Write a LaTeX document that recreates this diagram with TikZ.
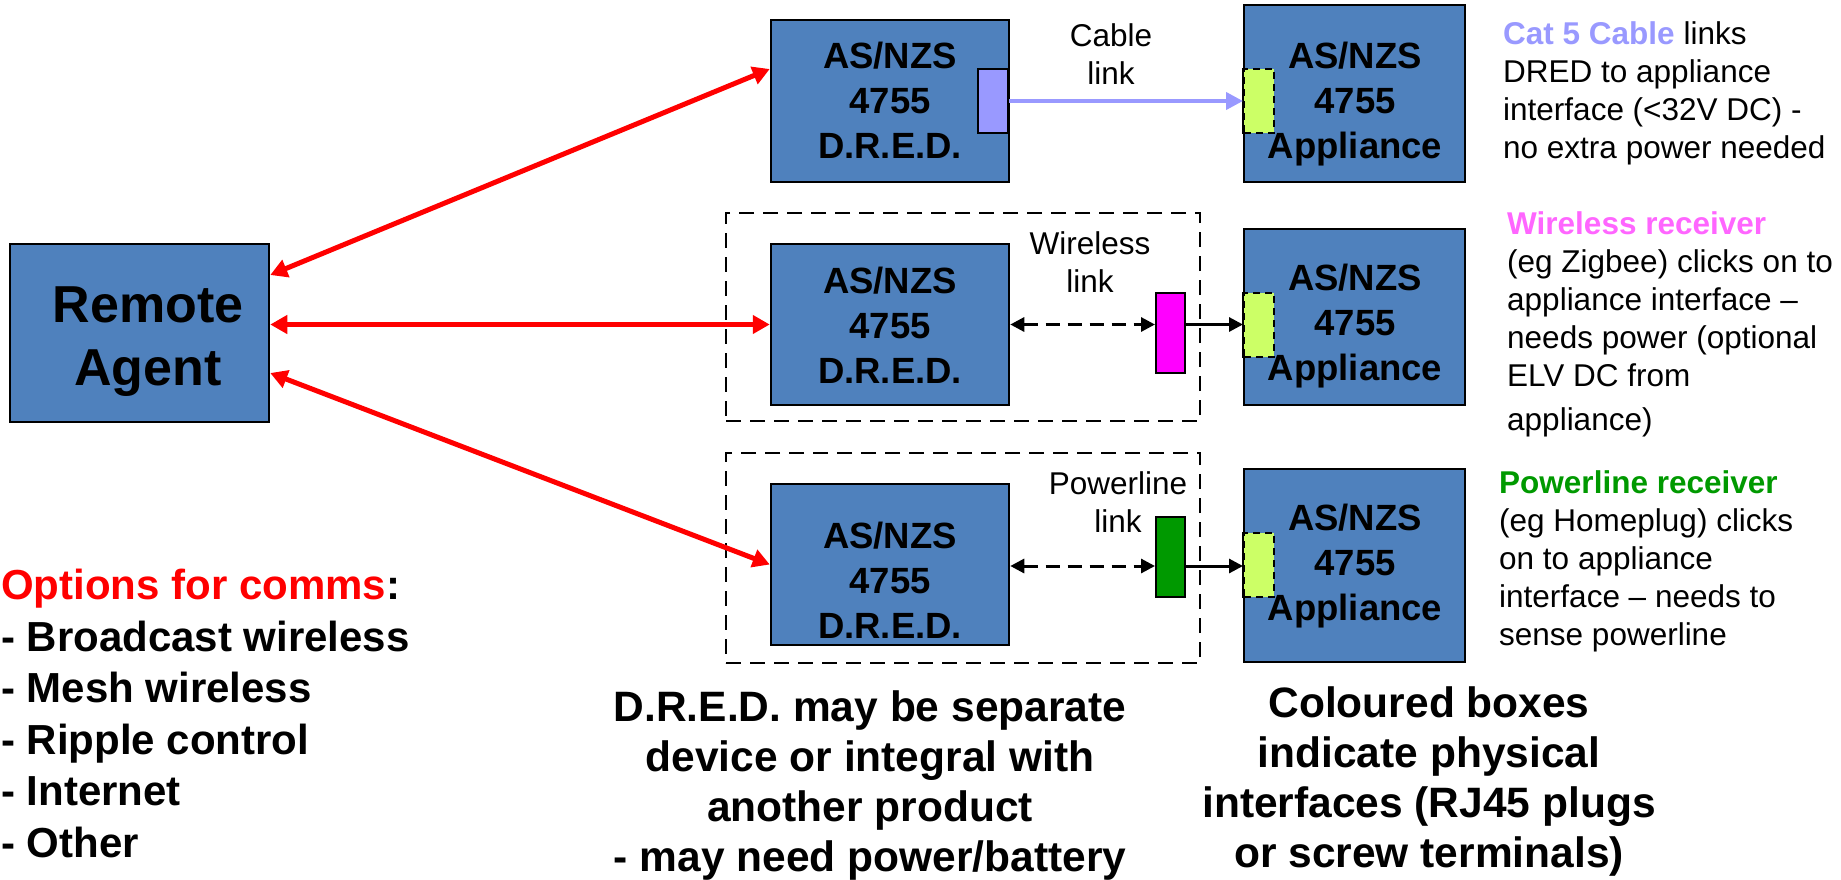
\documentclass[tikz,border=0pt]{standalone}
\usepackage{fontspec}
\setmainfont{Liberation Sans}
\usetikzlibrary{arrows.meta}

\definecolor{boxblue}{RGB}{79,129,189}
\definecolor{cablepurple}{RGB}{153,153,255}
\definecolor{portlime}{RGB}{204,255,102}
\definecolor{radiomagenta}{RGB}{255,0,255}
\definecolor{radiopink}{RGB}{255,102,255}
\definecolor{plcgreen}{RGB}{0,153,0}
\definecolor{commsred}{RGB}{255,0,0}

\newcommand\fsz[2]{\fontsize{#1}{#2}\selectfont}

\begin{document}
\begin{tikzpicture}[x=1pt,y=-1pt,
  unitbox/.style={draw=black, line width=2.5pt, fill=boxblue, inner sep=0pt},
  boxtext/.style={font=\bfseries\fsz{36.5}{45}, align=center, inner sep=0pt},
  port/.style={draw=black, line width=2pt, inner sep=0pt},
  sideport/.style={port, fill=portlime, dash pattern=on 7pt off 5pt},
  groupbox/.style={draw=black, line width=2.3pt, dash pattern=on 15pt off 9pt, inner sep=0pt},
  linklabel/.style={font=\fsz{31.5}{38}, align=center, inner sep=0pt},
  notetext/.style={font=\fsz{31.5}{38}, align=left, inner sep=0pt, anchor=north west},
  bigtext/.style={font=\bfseries\fsz{42.5}{50}, align=center, inner sep=0pt, anchor=north},
  commsarrow/.style={line width=5pt, draw=commsred,
    {Triangle[length=17pt,width=18pt]}-{Triangle[length=17pt,width=18pt]}},
  cablearrow/.style={line width=4pt, draw=cablepurple, -{Triangle[length=17pt,width=17pt]}},
  radiolink/.style={line width=3pt, dash pattern=on 14pt off 8pt,
    {Triangle[length=14pt,width=14pt]}-{Triangle[length=14pt,width=14pt]}},
  plugarrow/.style={line width=3pt, -{Triangle[length=14pt,width=14pt]}},
  edge/.style={line width=2.5pt, draw=black}
]
\useasboundingbox (0,0) rectangle (1841,879);

% dashed outlines grouping a D.R.E.D. with its receiver
\node[groupbox, minimum width=474pt, minimum height=208pt] (grp2) at (963,317) {};
\node[groupbox, minimum width=474pt, minimum height=210pt] (grp3) at (963,558) {};

% remote agent
\node[unitbox, minimum width=259pt, minimum height=178pt] (remote) at (139.5,333) {};
\node[font=\bfseries\fsz{52}{63}, align=center, inner sep=0pt] (remotetxt) at (148,342) {Remote\\Agent};

% D.R.E.D. units
\node[unitbox, minimum width=238pt, minimum height=162pt] (dred1) at (890,101) {};
\node[unitbox, minimum width=238pt, minimum height=161pt] (dred2) at (890,324.5) {};
\node[unitbox, minimum width=238pt, minimum height=161pt] (dred3) at (890,564.5) {};
\node[boxtext] (dred1txt) at (890,100) {AS/NZS\\4755\\D.R.E.D.};
\node[boxtext] (dred2txt) at (890,325) {AS/NZS\\4755\\D.R.E.D.};
\node[boxtext] (dred3txt) at (890,580) {AS/NZS\\4755\\D.R.E.D.};

% appliances
\node[unitbox, minimum width=221pt, minimum height=177pt] (app1) at (1354.5,93.5) {};
\node[unitbox, minimum width=221pt, minimum height=176pt] (app2) at (1354.5,317) {};
\node[unitbox, minimum width=221pt, minimum height=193pt] (app3) at (1354.5,565.5) {};
\node[boxtext] (app1txt) at (1355,104) {AS/NZS\\4755\\Appliance};
\node[boxtext] (app2txt) at (1355,326) {AS/NZS\\4755\\Appliance};
\node[boxtext] (app3txt) at (1355,566) {AS/NZS\\4755\\Appliance};

% physical interfaces
\node[port, fill=cablepurple, minimum width=30pt, minimum height=64pt] (cat5) at (993,101) {};
\node[port, fill=radiomagenta, minimum width=29pt, minimum height=80pt] (zigbee) at (1170.5,333) {};
\node[port, fill=plcgreen, minimum width=29pt, minimum height=80pt] (homeplug) at (1170.5,557) {};
\node[sideport, minimum width=30pt, minimum height=64pt] (app1port) at (1259,101) {};
\node[sideport, minimum width=30pt, minimum height=64pt] (app2port) at (1259,325) {};
\node[sideport, minimum width=30pt, minimum height=64pt] (app3port) at (1259,565) {};
\draw[edge] (app1port.north west) -- (app1port.south west);
\draw[edge] (app2port.north west) -- (app2port.south west);
\draw[edge] (app3port.north west) -- (app3port.south west);

% communications from the remote agent
\draw[commsarrow] ([yshift=58pt]remote.east) -- ([yshift=32pt]dred1.west);
\draw[commsarrow] (dred2.west -| remote.east) -- (dred2.west);
\draw[commsarrow] ([yshift=-40pt]remote.east) -- (dred3.west);

% links between D.R.E.D.s and appliances
\draw[cablearrow] (cat5.east) -- (app1port.west);
\draw[radiolink] (dred2.east) -- (dred2.east -| zigbee.west);
\draw[plugarrow] (dred2.east -| zigbee.east) -- (dred2.east -| app2port.west);
\draw[radiolink] ([yshift=-1.5pt]dred3.east) -- ([yshift=-1.5pt]dred3.east -| homeplug.west);
\draw[plugarrow] ([yshift=-1.5pt]dred3.east -| homeplug.east) -- ([yshift=-1.5pt]dred3.east -| app3port.west);

% link labels
\node[linklabel] (cablelbl) at (1111,54) {Cable\\link};
\node[linklabel] (wirelesslbl) at (1090,262.5) {Wireless\\link};
\node[linklabel] (powerlbl) at (1118,502.5) {Powerline\\link};

% notes on the right
\node[notetext] (note1) at (1503,21) {{\bfseries\color{cablepurple}Cat 5 Cable} links\\DRED to appliance\\interface (<32V DC) -\\no extra power needed};
\node[notetext] (note2) at (1507,211) {{\bfseries\color{radiopink}Wireless receiver}\\(eg Zigbee) clicks on to\\appliance interface –\\needs power (optional\\ELV DC from\\[6pt]appliance)};
\node[notetext] (note3) at (1499,470.5) {{\bfseries\color{plcgreen}Powerline receiver}\\(eg Homeplug) clicks\\on to appliance\\interface – needs to\\sense powerline};

% comms options
\node[font=\bfseries\fsz{42}{51.5}, align=left, inner sep=0pt, anchor=north west] (options) at (1,569)
  {{\color{commsred}Options for comms}:\\- Broadcast wireless\\- Mesh wireless\\- Ripple control\\- Internet\\- Other};

% bottom remarks
\node[bigtext] (dredremark) at (870,690) {D.R.E.D. may be separate\\device or integral with\\another product\\- may need power/battery};
\node[bigtext] (colourremark) at (1429,686) {Coloured boxes\\indicate physical\\interfaces (RJ45 plugs\\or screw terminals)};
\end{tikzpicture}
\end{document}
